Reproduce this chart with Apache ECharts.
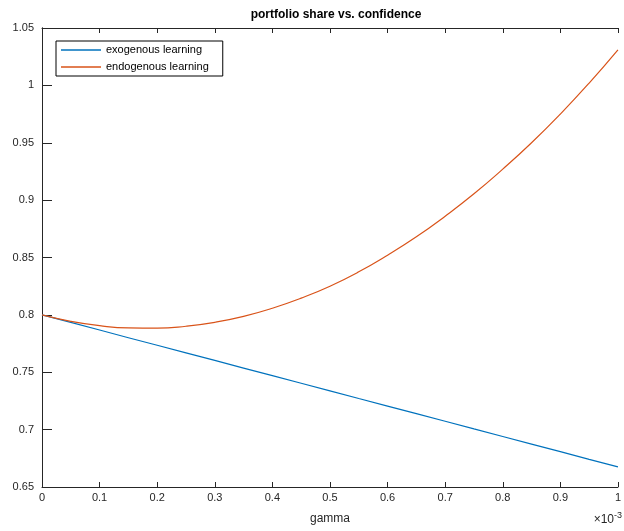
<!DOCTYPE html>
<html><head><meta charset="utf-8">
<script src="https://cdn.jsdelivr.net/npm/echarts@6/dist/echarts.min.js"></script>
<style>html,body{margin:0;padding:0;background:#fff}#c{width:624px;height:531px}</style>
</head><body><div id="c"></div>
<script>
// gamma in units of 1e-3
const gamma = [0,0.05,0.10,0.15,0.20,0.25,0.30,0.35,0.40,0.45,0.50,0.55,0.60,0.65,0.70,0.75,0.80,0.85,0.90,0.95,1.00];
const exogenous = [0.800,0.7934,0.7868,0.7801,0.7735,0.7669,0.7603,0.7536,0.7470,0.7404,0.7338,0.7271,0.7205,0.7139,0.7073,0.7006,0.6940,0.6874,0.6808,0.6741,0.6675];
const endogenous = [0.800,0.7944,0.7906,0.7886,0.7884,0.7901,0.7935,0.7987,0.8058,0.8146,0.8250,0.8375,0.8520,0.8680,0.8860,0.9055,0.9270,0.9500,0.9750,1.0020,1.0310];
const seriesNames = ['exogenous learning','endogenous learning'];
const xTicks = [0,0.1,0.2,0.3,0.4,0.5,0.6,0.7,0.8,0.9,1];
const yTicks = [0.65,0.7,0.75,0.8,0.85,0.9,0.95,1,1.05];

const axisCol = '#262626';
const font = 'Liberation Sans, Arial, sans-serif';
const chart = echarts.init(document.getElementById('c'));
const fmtX = v => String(Math.round(v*10)/10);
const fmtY = v => String(Math.round(v*100)/100);
const xBase = {type:'value',min:xTicks[0],max:xTicks[xTicks.length-1],interval:0.1,splitLine:{show:false}};
const yBase = {type:'value',min:yTicks[0],max:yTicks[yTicks.length-1],interval:0.05,splitLine:{show:false}};
const tickOnly = (base, pos) => Object.assign({}, base, {position:pos, offset:-5,
  axisLine:{show:false}, axisLabel:{show:false},
  axisTick:{show:true,inside:false,length:5,lineStyle:{color:axisCol,width:1}}});
chart.setOption({
  animation:false,
  title:{text:'portfolio share vs. confidence',left:331,top:4,textAlign:'center',
    textStyle:{fontFamily:font,fontSize:12,fontWeight:'bold',color:'#000'}},
  legend:{orient:'vertical',left:56,top:41,data:seriesNames,icon:'rect',
    backgroundColor:'#fff',borderColor:'#000',borderWidth:1,padding:[2,14,2,5],
    itemGap:3,itemWidth:40,itemHeight:1.5,
    textStyle:{fontFamily:font,fontSize:11,color:'#000',lineHeight:14,height:14}},
  grid:{left:42,right:3,top:28,bottom:44,containLabel:false},
  xAxis:[Object.assign({}, xBase, {position:'bottom',
    name:'gamma',nameLocation:'middle',nameGap:26,
    nameTextStyle:{fontFamily:font,fontSize:12,color:axisCol},
    axisLine:{show:true,lineStyle:{color:axisCol,width:1}},
    axisTick:{show:false},
    axisLabel:{fontFamily:font,fontSize:11,color:axisCol,margin:5,formatter:fmtX}}),
    Object.assign({}, xBase, {position:'top',
    axisLine:{show:true,lineStyle:{color:axisCol,width:1}},
    axisTick:{show:false},axisLabel:{show:false}}),
    tickOnly(xBase,'bottom'), tickOnly(xBase,'top')],
  yAxis:[Object.assign({}, yBase, {position:'left',
    axisLine:{show:true,lineStyle:{color:axisCol,width:1}},
    axisTick:{show:false},
    axisLabel:{fontFamily:font,fontSize:11,color:axisCol,margin:8,formatter:fmtY}}),
    Object.assign({}, yBase, {position:'right',
    axisLine:{show:true,lineStyle:{color:axisCol,width:1}},
    axisTick:{show:false},axisLabel:{show:false}}),
    tickOnly(yBase,'left'), tickOnly(yBase,'right')],
  graphic:[{type:'text',right:2,top:511,
    style:{text:'{a|×10}{b|-3}',fill:axisCol,
      rich:{a:{fontFamily:font,fontSize:12,color:axisCol,padding:[9,0,0,0]},
            b:{fontFamily:font,fontSize:9,color:axisCol}}}}],
  series:[
    {name:seriesNames[0],type:'line',showSymbol:false,symbol:'none',smooth:false,
     data:gamma.map((g,i)=>[g,exogenous[i]]),lineStyle:{color:'#0072BD',width:1.2},itemStyle:{color:'#0072BD'}},
    {name:seriesNames[1],type:'line',showSymbol:false,symbol:'none',smooth:true,
     data:gamma.map((g,i)=>[g,endogenous[i]]),lineStyle:{color:'#D95319',width:1.2},itemStyle:{color:'#D95319'}}
  ]
});
</script></body></html>
